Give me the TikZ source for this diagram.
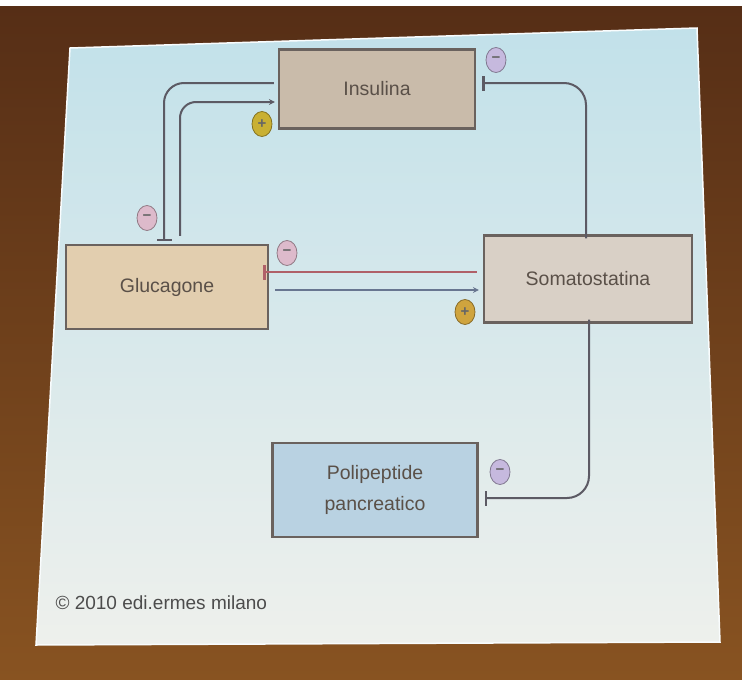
\documentclass[tikz,border=0pt]{standalone}
\usepackage{fontspec}
\setmainfont{Liberation Sans}
\usetikzlibrary{arrows.meta,shapes.geometric}
\definecolor{bgtop}{HTML}{562E16}
\definecolor{bgbot}{HTML}{885321}
\definecolor{slidetop}{HTML}{C2E1EA}
\definecolor{slidemid}{HTML}{DCEBEE}
\definecolor{slidebot}{HTML}{EEF0EC}
\definecolor{insfill}{HTML}{C9BBAA}
\definecolor{glufill}{HTML}{E2CEAF}
\definecolor{somfill}{HTML}{D9D0C6}
\definecolor{polfill}{HTML}{B9D2E2}
\definecolor{boxline}{HTML}{6A625E}
\definecolor{txt}{HTML}{5A5048}
\definecolor{conn}{HTML}{5C5A64}
\definecolor{redline}{HTML}{B06068}
\definecolor{blueline}{HTML}{687690}
\definecolor{lav}{HTML}{C6B9DE}
\definecolor{pinkc}{HTML}{DDBACB}
\definecolor{yel}{HTML}{C9B033}
\definecolor{yelb}{HTML}{CFA43E}
\tikzset{
  hbox/.style={draw=boxline, line width=2.2pt, minimum width=#1, inner sep=2pt,
    font=\fontsize{19.5}{31}\selectfont, text=txt, align=center},
  conline/.style={draw=conn, line width=2pt},
  inhib/.style={-{Bar[width=15pt,line width=2.4pt]}},
  stim/.style={-{Stealth[length=6pt,width=6pt]}},
  sign/.style={ellipse, draw=#1!65!black, fill=#1, line width=0.8pt,
    minimum width=20pt, minimum height=25pt, inner sep=0pt,
    font=\fontsize{15}{15}\selectfont\bfseries, text=black!60}
}
\begin{document}
\begin{tikzpicture}[x=1pt,y=-1pt]
\useasboundingbox (0,0) rectangle (742,680);
% background
\fill[white] (0,0) rectangle (742,680);
\shade[top color=bgtop, bottom color=bgbot] (0,6) rectangle (742,680);
% slide
\shade[top color=slidetop, middle color=slidemid, bottom color=slidebot]
  (70,48) -- (697,28) -- (720,642) -- (36,645) -- cycle;
\draw[white!90!slidetop, line width=1.5pt] (70,48) -- (697,28) -- (720,642) -- (36,645) -- cycle;
% boxes
\node[hbox=196pt, minimum height=79pt, fill=insfill] (ins) at (377,89) {Insulina};
\node[hbox=202pt, minimum height=84pt, fill=glufill] (glu) at (167,287) {Glucagone};
\node[hbox=208pt, minimum height=87pt, fill=somfill] (som) at (588,279) {Somatostatina};
\node[hbox=205pt, minimum height=94pt, fill=polfill] (pol) at (375,490) {Polipeptide\\pancreatico};
% connectors
\draw[conline, inhib, rounded corners=20pt]
  ([xshift=-4pt,yshift=6pt]ins.west) -| ([xshift=-3pt,yshift=3pt]glu.north);
\draw[conline, stim, rounded corners=16pt]
  ([xshift=13pt,yshift=8pt]glu.north) |- ([xshift=-3pt,yshift=-13pt]ins.west);
\draw[conline, inhib, rounded corners=22pt]
  ([xshift=-2pt,yshift=-4pt]som.north) |- ([xshift=6pt,yshift=6pt]ins.east);
\draw[draw=redline, line width=2pt, inhib]
  ([xshift=-6pt,yshift=7pt]som.west) -- ([xshift=-6pt,yshift=7pt]som.west -| glu.east);
\draw[draw=blueline, line width=2pt, stim]
  ([xshift=6pt,yshift=-3pt]glu.east) -- ([xshift=-4pt,yshift=-3pt]glu.east -| som.west);
\draw[conline, inhib, rounded corners=22pt]
  ([xshift=1pt,yshift=4pt]som.south) |- ([xshift=6pt,yshift=-8pt]pol.east);
% signs
\node[sign=lav] (s1) at (496,60) {\textminus};
\node[sign=yel] (s2) at (262,124) {+};
\node[sign=pinkc] (s3) at (147,218) {\textminus};
\node[sign=pinkc] (s4) at (287,253) {\textminus};
\node[sign=yelb] (s5) at (465,312) {+};
\node[sign=lav] (s6) at (500,472) {\textminus};
% copyright
\node[anchor=west, text=black!70, font=\fontsize{19}{22}\selectfont] (cr) at (52,603) {© 2010 edi.ermes milano};
\end{tikzpicture}
\end{document}
